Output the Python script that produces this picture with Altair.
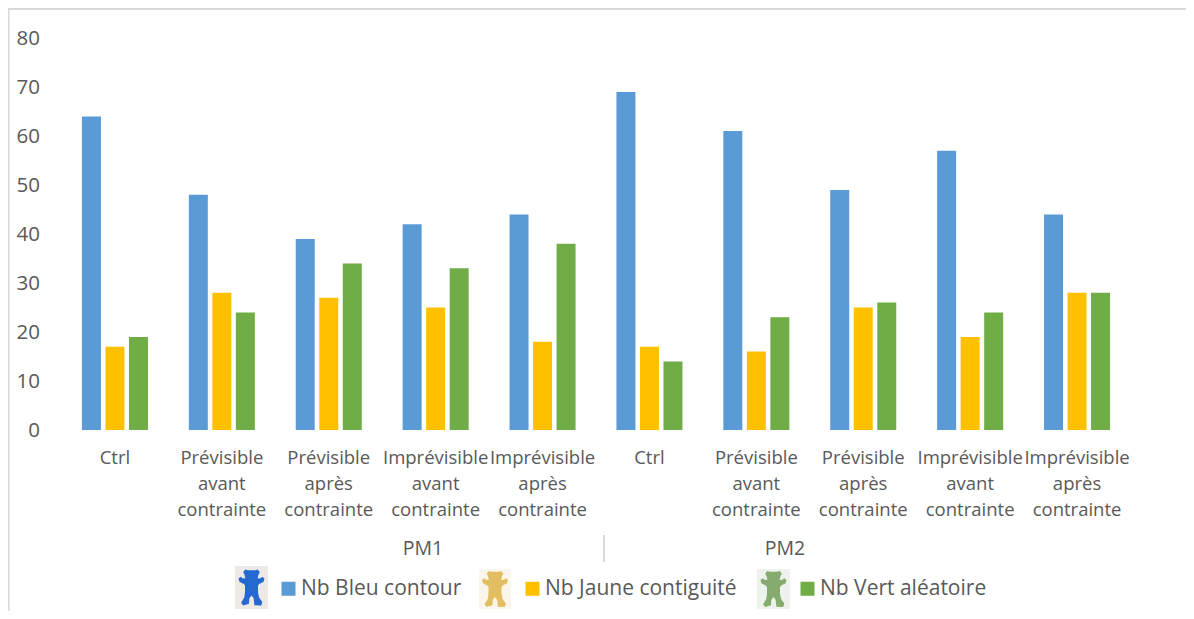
import altair as alt
import pandas as pd

categories = ["Ctrl", "Prévisible|avant|contrainte", "Prévisible|après|contrainte",
              "Imprévisible|avant|contrainte", "Imprévisible|après|contrainte"]
periods = ["PM1", "PM2"]
series_names = ["Nb Bleu contour", "Nb Jaune contiguité", "Nb Vert aléatoire"]
blue_values = [64, 48, 39, 42, 44, 69, 61, 49, 57, 44]
yellow_values = [17, 28, 27, 25, 18, 17, 16, 25, 19, 28]
green_values = [19, 24, 34, 33, 38, 14, 23, 26, 24, 28]
y_ticks = [0, 10, 20, 30, 40, 50, 60, 70, 80]

FONT = "Open Sans"
TXT = "#595959"
GRID = "#d9d9d9"
BEAR = ("M-0.34,-1 L-0.2,-0.95 L0.2,-0.95 L0.34,-1 L0.46,-0.86 L0.38,-0.7 L0.34,-0.5 "
        "L0.5,-0.52 L0.6,-0.6 L0.72,-0.5 L0.66,-0.3 L0.42,-0.2 L0.36,-0.1 L0.36,0.25 L0.42,0.55 "
        "L0.6,0.8 L0.54,1 L0.16,0.98 L0.12,0.6 L0,0.45 L-0.12,0.6 L-0.14,0.9 L-0.46,1 L-0.58,0.85 "
        "L-0.4,0.55 L-0.36,0.25 L-0.36,-0.1 L-0.42,-0.2 L-0.66,-0.3 L-0.72,-0.5 L-0.6,-0.6 "
        "L-0.5,-0.52 L-0.34,-0.5 L-0.38,-0.7 L-0.46,-0.86 Z")

keys = [f"{p} {c}" for p in periods for c in categories]
labels = [c for p in periods for c in categories]
rows = []
for name, vals in zip(series_names, [blue_values, yellow_values, green_values]):
    for k, v in zip(keys, vals):
        rows.append({"key": k, "series": name, "value": v})
df = pd.DataFrame(rows)
lab_df = pd.DataFrame({"key": keys, "label": labels})

x_scale = alt.Scale(domain=keys, paddingInner=0.34, paddingOuter=0.17)
x_enc = alt.X("key:N", scale=x_scale, axis=alt.Axis(
    labels=False, ticks=False, title=None, domainColor=GRID, domainWidth=2))

bars = alt.Chart(df).mark_bar(size=19).encode(
    x=x_enc,
    xOffset=alt.XOffset("series:N", sort=series_names,
                        scale=alt.Scale(domain=series_names, paddingInner=0.19, paddingOuter=0.095)),
    y=alt.Y("value:Q", scale=alt.Scale(domain=[0, 80], nice=False), axis=alt.Axis(
        values=y_ticks, ticks=False, domain=False, grid=False, title=None,
        labelFont=FONT, labelFontSize=20.5, labelColor=TXT, labelPadding=22)),
    color=alt.Color("series:N", sort=series_names,
                    scale=alt.Scale(domain=series_names, range=["#5b9bd5", "#ffc000", "#70ad47"]),
                    legend=alt.Legend(
                        orient="none", legendX=216.5, legendY=540, direction="horizontal",
                        columns=3, title=None, symbolType="square", symbolSize=196,
                        symbolStrokeWidth=0, labelFont=FONT, labelFontSize=21, labelColor=TXT,
                        labelOffset=2, columnPadding=60, labelLimit=300, symbolOffset=0)),
)

x_labels = alt.Chart(lab_df).mark_text(
    lineBreak="|", lineHeight=26, font=FONT, fontSize=18.5, color=TXT, baseline="alphabetic"
).encode(x=alt.X("key:N", scale=x_scale, axis=None), y=alt.value(426), text="label:N")


def txt(label, px, py):
    return alt.Chart(pd.DataFrame({"t": [label]})).mark_text(
        font=FONT, fontSize=19.5, color=TXT).encode(x=alt.value(px), y=alt.value(py), text="t:N")


pm1 = txt(periods[0], 361.5, 511)
pm2 = txt(periods[1], 723.5, 511)


def rule(x, x2, y, y2, width=2):
    return alt.Chart(pd.DataFrame({"a": [0]})).mark_rule(
        color=GRID, strokeWidth=width, clip=False).encode(
        x=alt.value(x), x2=alt.value(x2), y=alt.value(y), y2=alt.value(y2))


sep = rule(542.5, 542.5, 497, 524)
frame_left = rule(-53, -53, -30, 573)
frame_top = rule(-53.5, 1124.5, -29, -29)


def icon(x, x2, y, y2, bg, fg):
    d = pd.DataFrame({"a": [0]})
    back = alt.Chart(d).mark_rect(color=bg).encode(
        x=alt.value(x), x2=alt.value(x2), y=alt.value(y), y2=alt.value(y2))
    fig = alt.Chart(d).mark_point(shape=BEAR, filled=True, color=fg, opacity=1, size=1300).encode(
        x=alt.value((x + x2) / 2), y=alt.value((y + y2) / 2))
    return back + fig


icons = (icon(173.5, 206.5, 528, 571, "#ece9e6", "#2468d0")
         + icon(417.5, 449.5, 531, 571, "#fbf6ec", "#e3bd62")
         + icon(695.5, 728.5, 531, 571, "#eef2ec", "#86ab6f"))

chart = alt.layer(frame_left, frame_top, bars, x_labels, pm1, pm2, sep, icons).properties(
    width=1069, height=392,
    padding={"left": 53.5, "top": 30, "right": 55.5, "bottom": 181},
    autosize=alt.AutoSizeParams(type="none"),
).configure_view(stroke=None)

chart.save("out.html", embed_options={"renderer": "svg", "actions": False})
